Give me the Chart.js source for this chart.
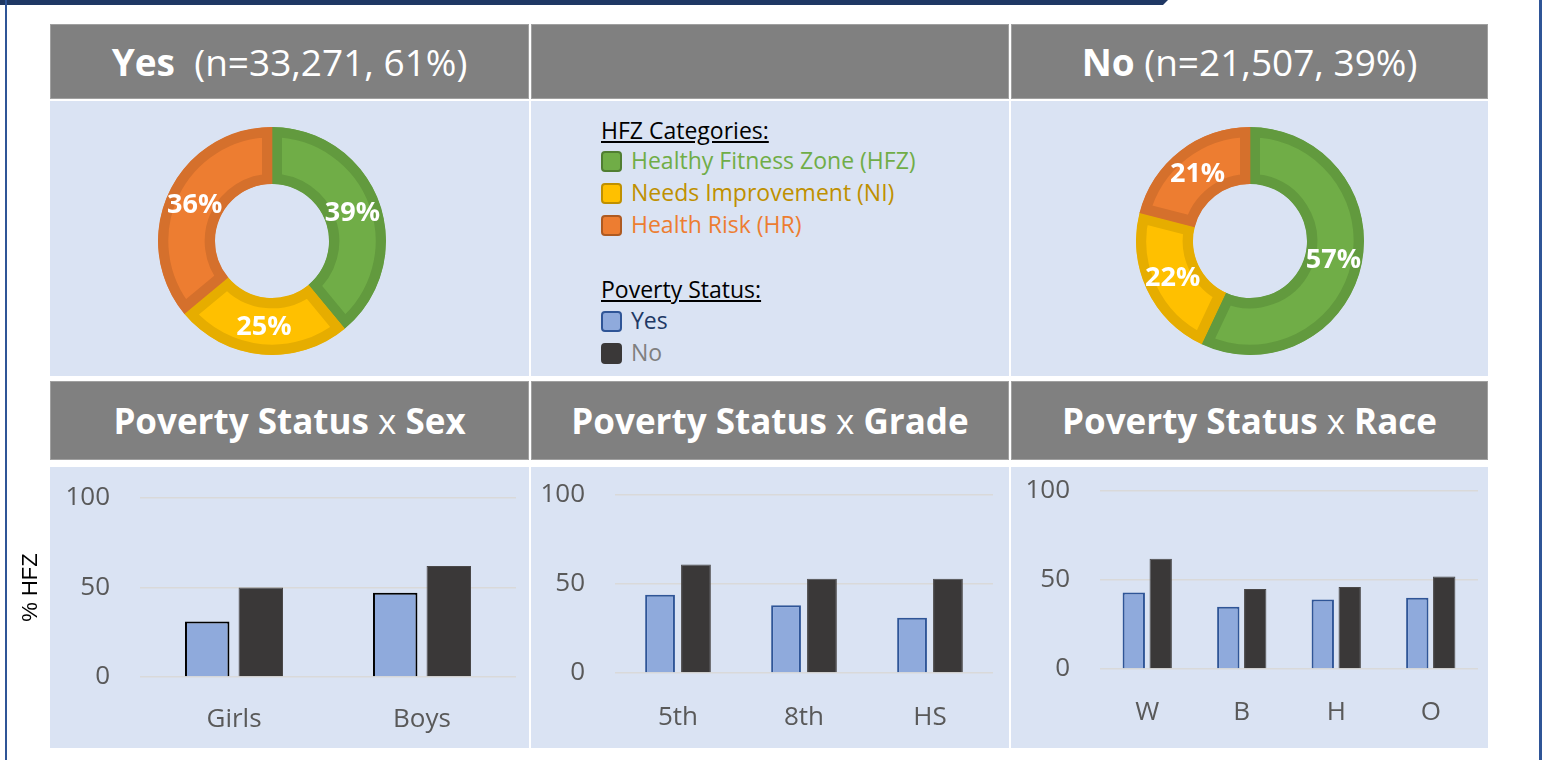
<!DOCTYPE html>
<html>
<head>
<meta charset="utf-8">
<script src="https://cdn.jsdelivr.net/npm/chart.js@4"></script>
<style>
  body { margin: 0; background: #fff; font-family: 'Open Sans', sans-serif; }
  #page { position: relative; width: 1547px; height: 760px; overflow: hidden; }
  .abs { position: absolute; }
  .head { position: absolute; background: #808080; border: 1px solid #a0a0a0; box-sizing: border-box;
          color: #fff; display: flex; align-items: center; justify-content: center; font-size: 35px; white-space: pre; }
  .head b { font-weight: 700; }
  .big { font-size: 37px; }
  .panel { position: absolute; background: #dae3f3; }
  .leg { position: absolute; left: 601px; font-size: 23px; line-height: 32px; height: 32px; white-space: nowrap; }
  .leg u { color: #000; }
  .sq { display: inline-block; width: 17px; height: 17px; border: 2px solid; border-radius: 4px; vertical-align: -3px; margin-right: 9px; }
  canvas { position: absolute; }
</style>
</head>
<body>
<div id="page">
  <div class="abs" style="left:0;top:0;width:1168px;height:5px;background:#1f3864;clip-path:polygon(0 0,1168px 0,1163px 5px,0 5px);"></div>
  <div class="abs" style="left:5px;top:0;width:2px;height:760px;background:#2f5597;"></div>
  <div class="abs" style="left:1539px;top:0;width:3px;height:760px;background:#2f5597;"></div>

  <div class="head big" id="headYes" style="left:50px;top:24px;width:479px;height:75px;"></div>
  <div class="head" style="left:531px;top:24px;width:478px;height:75px;"></div>
  <div class="head big" id="headNo" style="left:1011px;top:24px;width:477px;height:75px;"></div>

  <div class="panel" style="left:50px;top:101px;width:479px;height:275px;"></div>
  <div class="panel" style="left:531px;top:101px;width:478px;height:275px;"></div>
  <div class="panel" style="left:1011px;top:101px;width:477px;height:275px;"></div>

  <div class="head" style="left:50px;top:381px;width:479px;height:79px;"><b>Poverty Status</b> x <b>Sex</b></div>
  <div class="head" style="left:531px;top:381px;width:478px;height:79px;"><b>Poverty Status</b> x <b>Grade</b></div>
  <div class="head" style="left:1011px;top:381px;width:477px;height:79px;"><b>Poverty Status</b> x <b>Race</b></div>

  <div class="panel" style="left:50px;top:467px;width:479px;height:281px;"></div>
  <div class="panel" style="left:531px;top:467px;width:478px;height:281px;"></div>
  <div class="panel" style="left:1011px;top:467px;width:477px;height:281px;"></div>

  <div id="legend"></div>

  <canvas id="donutYes" width="228" height="228" style="left:158px;top:127px;width:228px;height:228px;"></canvas>
  <canvas id="donutNo" width="228" height="228" style="left:1136px;top:127px;width:228px;height:228px;"></canvas>
  <canvas id="barSex" width="514" height="281" style="left:14px;top:467px;width:514px;height:281px;"></canvas>
  <canvas id="barGrade" width="477" height="281" style="left:531px;top:467px;width:477px;height:281px;"></canvas>
  <canvas id="barRace" width="477" height="281" style="left:1011px;top:467px;width:477px;height:281px;"></canvas>
</div>

<script>
// --- données ---
const groupNames = ['Yes', 'No'];
const groupCounts = ['33,271', '21,507'];
const groupShares = [61, 39];

const hfzCategories = ['Healthy Fitness Zone (HFZ)', 'Needs Improvement (NI)', 'Health Risk (HR)'];
const povertyYesHfz = [39, 25, 36];
const povertyNoHfz = [57, 22, 21];

const sexLabels = ['Girls', 'Boys'];
const sexYes = [31, 47];
const sexNo = [50, 62];

const gradeLabels = ['5th', '8th', 'HS'];
const gradeYes = [44, 38, 31];
const gradeNo = [61, 53, 53];

const raceLabels = ['W', 'B', 'H', 'O'];
const raceYes = [43, 35, 39, 40];
const raceNo = [62, 45, 46, 52];

const yTickValues = [0, 50, 100];

// Couleurs
const hfzFill = ['#70ad47', '#ffc000', '#ed7d31'];
const hfzEdge = ['#629a3e', '#e6ad00', '#d5702c'];
const hfzLegendEdge = ['#507e32', '#bf9000', '#ae5a21'];
const hfzText = ['#70ad47', '#bf9000', '#ed7d31'];

// En-têtes
document.getElementById('headYes').innerHTML = '<b>' + groupNames[0] + '</b>  (n=' + groupCounts[0] + ', ' + groupShares[0] + '%)';
document.getElementById('headNo').innerHTML = '<b>' + groupNames[1] + '</b> (n=' + groupCounts[1] + ', ' + groupShares[1] + '%)';

// Légende
(function buildLegend() {
  const box = document.getElementById('legend');
  let html = '<div class="leg" style="top:114px"><u>HFZ Categories: </u></div>';
  hfzCategories.forEach((c, i) => {
    html += '<div class="leg" style="top:' + (144 + i * 32) + 'px;color:' + hfzText[i] + '">' +
      '<span class="sq" style="background:' + hfzFill[i] + ';border-color:' + hfzLegendEdge[i] + '"></span>' + c + '</div>';
  });
  html += '<div class="leg" style="top:273px"><u>Poverty Status:</u></div>';
  html += '<div class="leg" style="top:304px;color:#203864"><span class="sq" style="background:#8faadc;border-color:#2f5597"></span>' + groupNames[0] + '</div>';
  html += '<div class="leg" style="top:336px;color:#7f7f7f"><span class="sq" style="background:#3a3838;border-color:#3a3838"></span>' + groupNames[1] + '</div>';
  box.innerHTML = html;
})();

// Étiquettes blanches au milieu de l'anneau
const sliceLabels = {
  id: 'sliceLabels',
  afterDatasetsDraw(chart) {
    const ctx = chart.ctx;
    const ds = chart.data.datasets[0];
    ctx.save();
    ctx.font = 'bold 27px "Open Sans"';
    ctx.fillStyle = '#ffffff';
    ctx.textAlign = 'center';
    ctx.textBaseline = 'middle';
    chart.getDatasetMeta(0).data.forEach((arc, i) => {
      const p = arc.tooltipPosition(true);
      ctx.fillText(ds.data[i] + '%', p.x, p.y + 1);
    });
    ctx.restore();
  }
};

function makeDonut(id, values) {
  return new Chart(document.getElementById(id), {
    type: 'doughnut',
    data: {
      labels: hfzCategories,
      datasets: [{
        data: values,
        backgroundColor: hfzFill,
        borderColor: hfzEdge,
        borderWidth: 10,
        borderAlign: 'inner'
      }]
    },
    options: {
      responsive: false,
      animation: false,
      events: [],
      cutout: '50%',
      layout: { padding: 0 },
      plugins: { legend: { display: false }, tooltip: { enabled: false } }
    },
    plugins: [sliceLabels]
  });
}

makeDonut('donutYes', povertyYesHfz);
makeDonut('donutNo', povertyNoHfz);

const tickFont = { family: "'Open Sans', sans-serif", size: 26 };

function makeBars(id, labels, yes, no, cfg) {
  return new Chart(document.getElementById(id), {
    type: 'bar',
    data: {
      labels: labels,
      datasets: [
        { label: groupNames[0], data: yes, backgroundColor: '#8faadc', borderColor: cfg.yesBorder, borderWidth: 2 },
        { label: groupNames[1], data: no, backgroundColor: '#3a3838', borderColor: '#4a4848', borderWidth: 1 }
      ]
    },
    options: {
      responsive: false,
      animation: false,
      events: [],
      datasets: { bar: { categoryPercentage: 0.57, barPercentage: 0.83 } },
      layout: { padding: { top: cfg.top, right: cfg.right, left: 0, bottom: 0 } },
      plugins: { legend: { display: false }, tooltip: { enabled: false } },
      scales: {
        x: {
          grid: { display: false, drawTicks: false },
          border: { display: false },
          ticks: { font: tickFont, color: '#595959', padding: cfg.xPad },
          afterFit: s => { s.height = cfg.xHeight; }
        },
        y: {
          min: 0,
          max: 100,
          afterBuildTicks: s => { s.ticks = yTickValues.map(v => ({ value: v })); },
          grid: { color: '#d9d9d9', lineWidth: 1.5, drawTicks: false },
          border: { display: false },
          ticks: { font: tickFont, color: '#595959', padding: 30 },
          title: cfg.yTitle ? {
            display: true, text: cfg.yTitle, color: '#000000',
            font: { family: "'Liberation Sans', Arial, sans-serif", size: 22 }, padding: 4
          } : { display: false },
          afterFit: s => {
            s.width = cfg.yWidth;
            // le padding des étiquettes ne doit pas pousser la zone de tracé vers le bas
            s.paddingTop = 0;
            s.paddingBottom = 0;
          }
        }
      }
    }
  });
}

makeBars('barSex', sexLabels, sexYes, sexNo,
  { yesBorder: '#000000', top: 31, right: 12, yWidth: 126, xHeight: 71, xPad: 27, yTitle: '% HFZ' });
makeBars('barGrade', gradeLabels, gradeYes, gradeNo,
  { yesBorder: '#2f5597', top: 28, right: 15, yWidth: 84, xHeight: 75, xPad: 29 });
makeBars('barRace', raceLabels, raceYes, raceNo,
  { yesBorder: '#2f5597', top: 24, right: 10, yWidth: 89, xHeight: 79, xPad: 28 });
</script>
</body>
</html>
